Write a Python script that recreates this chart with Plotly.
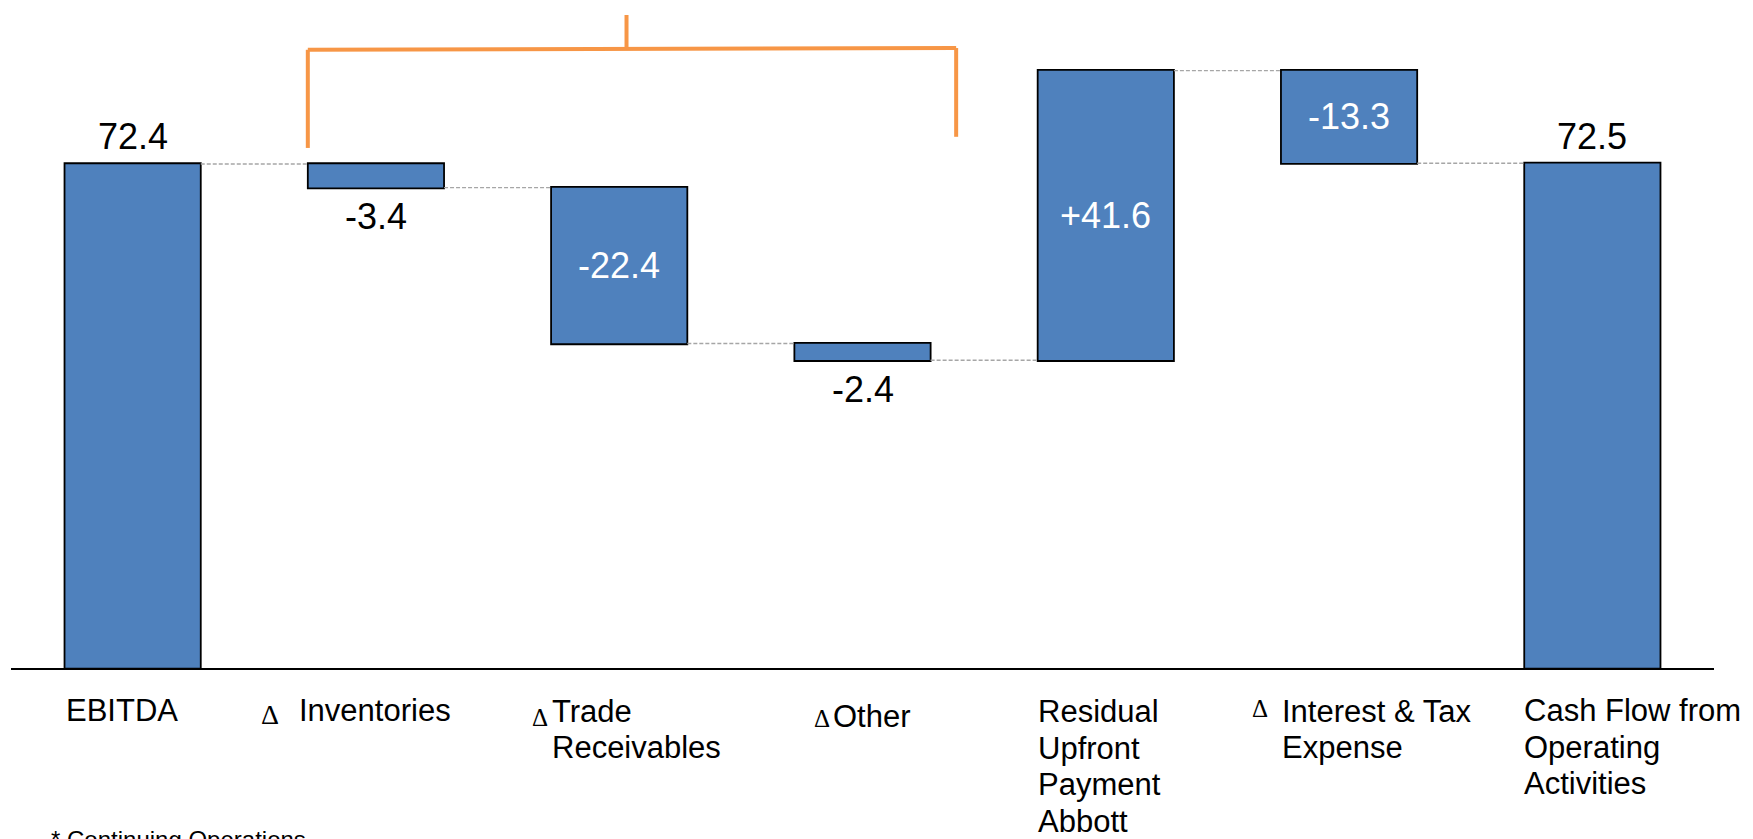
import numpy as np
import plotly.graph_objects as go

# ---- data ----
categories = [
    "EBITDA",
    "Δ Inventories",
    "ΔTrade Receivables",
    "ΔOther",
    "Residual Upfront Payment Abbott",
    "Δ Interest & Tax Expense",
    "Cash Flow from Operating Activities",
]
measures = ["absolute", "relative", "relative", "relative", "relative", "relative", "total"]
values = [72.4, -3.4, -22.4, -2.4, 41.6, -13.3, 0]

# category label lines drawn under the axis; the Δ prefix is set separately
label_lines = [
    ["EBITDA"],
    ["Inventories"],
    ["Trade", "Receivables"],
    ["Other"],
    ["Residual", "Upfront", "Payment", "Abbott"],
    ["Interest & Tax", "Expense"],
    ["Cash Flow from", "Operating", "Activities"],
]
has_delta = [False, True, True, True, False, True, False]
footnote = "* Continuing Operations"

# ---- styling ----
FONT = "Arial, Liberation Sans, sans-serif"
SERIF = "Times New Roman, Liberation Serif, serif"
BAR_BLUE = "#4F81BD"
ORANGE = "#F79646"
BAR_WIDTH = 0.56

# value label placement per bar
value_pos = ["above", "below", "inside", "below", "inside", "inside", "above"]
# horizontal offset (px from bar centre) of the label text, and of the Δ glyph
text_dx = [-69, -79, -69, -32, -69.5, -69.5, -70.5]
delta_dx = [None, -117, -89, -51, None, -99, None]
delta_dy = [None, 46.5, 49.0, 50.0, None, 40.6, None]
delta_size = [None, 28, 25, 25, None, 25, None]
first_line_dy = [42.3, 42.3, 43.1, 48.3, 43.5, 43.1, 42.3]
LINE_STEP = 36.7

# bracket over the working-capital items (x in category units, y in data units)
bracket_x = [1 - BAR_WIDTH / 2, 2.03, 3.385]
bracket_y = {"left_bottom": 74.7, "right_bottom": 76.3, "bar": 88.8, "stem_top": 93.8}

# ---- running totals for label placement ----
vals = np.array(values, dtype=float)
ends = []
running = 0.0
for m, v in zip(measures, vals):
    if m == "absolute":
        running = v
    elif m == "relative":
        running += v
    ends.append(running)
ends = np.array(ends)
starts = np.concatenate([[0.0], ends[:-1]])
starts[0] = 0.0
starts[-1] = 0.0

fig = go.Figure(
    go.Waterfall(
        x=categories,
        y=values,
        measure=measures,
        width=[BAR_WIDTH] * len(categories),
        increasing=dict(marker=dict(color=BAR_BLUE, line=dict(color="black", width=1.8))),
        decreasing=dict(marker=dict(color=BAR_BLUE, line=dict(color="black", width=1.8))),
        totals=dict(marker=dict(color=BAR_BLUE, line=dict(color="black", width=1.8))),
        connector=dict(line=dict(color="#A6A6A6", width=1.4, dash="4px,2px")),
        textinfo="none",
        hoverinfo="skip",
    )
)

annotations = []

# value labels
for i, cat in enumerate(categories):
    if measures[i] == "relative":
        txt = f"{vals[i]:+.1f}"
    else:
        txt = f"{ends[i]:.1f}"
    lo, hi = min(starts[i], ends[i]), max(starts[i], ends[i])
    pos = value_pos[i]
    if pos == "above":
        y, ys, col = hi, 27, "black"
    elif pos == "below":
        y, ys, col = lo, -29, "black"
    else:
        y, ys, col = (lo + hi) / 2, 0, "white"
    annotations.append(dict(
        x=cat, y=y, xref="x", yref="y", text=txt, showarrow=False,
        xanchor="center", yanchor="middle", yshift=ys,
        font=dict(family=FONT, size=36, color=col),
    ))

# category labels under the axis
for i, cat in enumerate(categories):
    for k, line in enumerate(label_lines[i]):
        annotations.append(dict(
            x=cat, y=0, xref="x", yref="paper", text=line, showarrow=False,
            xanchor="left", yanchor="middle", xshift=text_dx[i],
            yshift=-(first_line_dy[i] + k * LINE_STEP),
            font=dict(family=FONT, size=31, color="black"),
        ))
    if has_delta[i]:
        annotations.append(dict(
            x=cat, y=0, xref="x", yref="paper", text="Δ", showarrow=False,
            xanchor="left", yanchor="middle", xshift=delta_dx[i], yshift=-delta_dy[i],
            font=dict(family=SERIF, size=delta_size[i], color="black"),
        ))

# footnote
annotations.append(dict(
    x=0, y=0, xref="paper", yref="paper", text=footnote, showarrow=False,
    xanchor="left", yanchor="middle", xshift=38, yshift=-171,
    font=dict(family=FONT, size=24, color="black"),
))

# orange bracket
line_style = dict(color=ORANGE, width=4)
xl, xm, xr = bracket_x
shapes = [
    dict(type="line", xref="x", yref="y", x0=xl, x1=xl,
         y0=bracket_y["left_bottom"], y1=bracket_y["bar"], line=line_style),
    dict(type="line", xref="x", yref="y", x0=xl, x1=xr,
         y0=bracket_y["bar"], y1=bracket_y["bar"] + 0.25, line=line_style),
    dict(type="line", xref="x", yref="y", x0=xr, x1=xr,
         y0=bracket_y["right_bottom"], y1=bracket_y["bar"] + 0.25, line=line_style),
    dict(type="line", xref="x", yref="y", x0=xm, x1=xm,
         y0=bracket_y["bar"], y1=bracket_y["stem_top"], line=line_style),
]

fig.update_layout(
    width=1753,
    height=839,
    margin=dict(l=11, r=39, t=0, b=171),
    paper_bgcolor="white",
    plot_bgcolor="white",
    showlegend=False,
    annotations=annotations,
    shapes=shapes,
    xaxis=dict(
        type="category",
        range=[-0.5, 6.5],
        showline=True, linecolor="black", linewidth=2,
        showticklabels=False, ticks="", showgrid=False, zeroline=False,
        fixedrange=True,
    ),
    yaxis=dict(
        range=[0, 95.95],
        visible=False, showgrid=False, zeroline=False, fixedrange=True,
    ),
)

fig.write_html("out.html")
